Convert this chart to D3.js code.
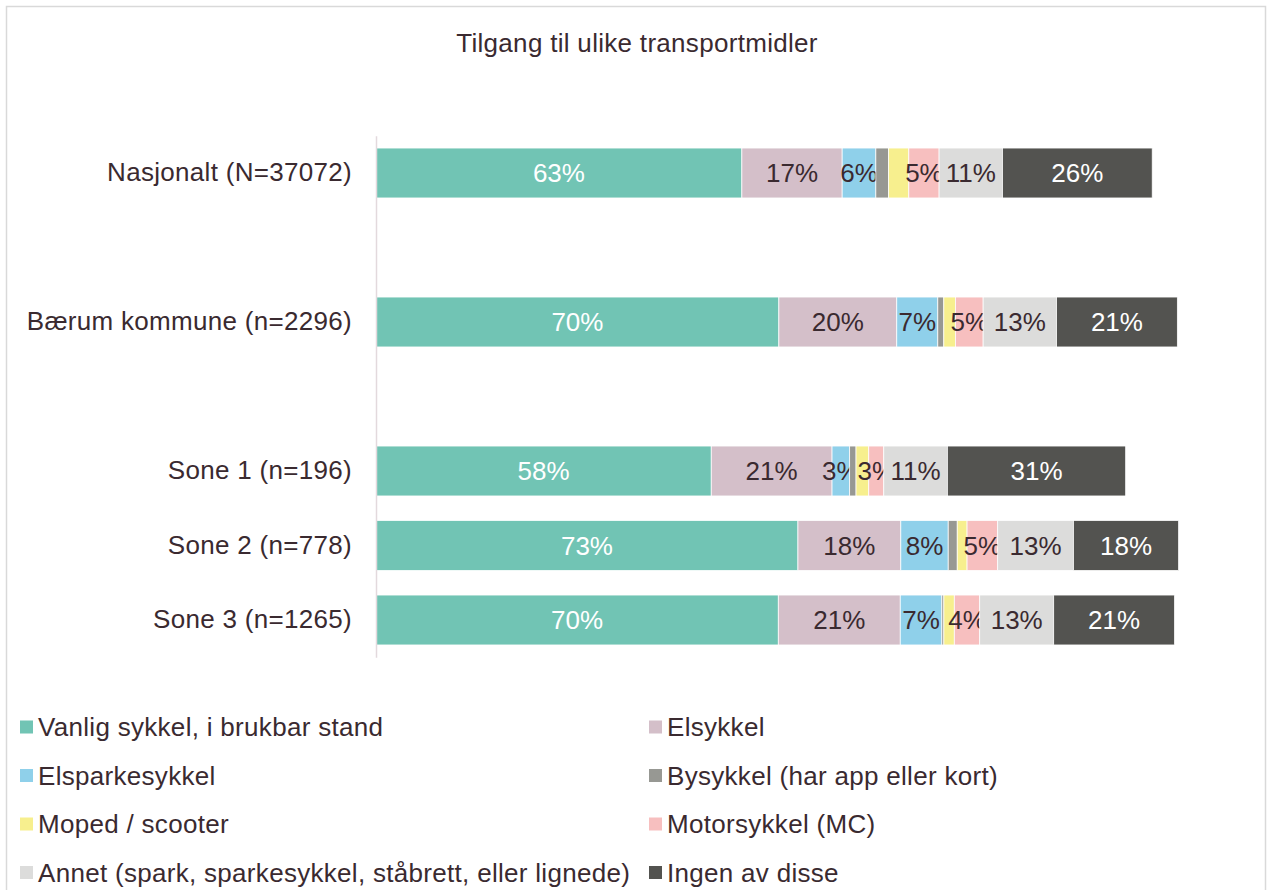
<!DOCTYPE html>
<html>
<head>
<meta charset="utf-8">
<script src="https://cdn.jsdelivr.net/npm/d3@7"></script>
<style>
  body { margin: 0; background: #fff; }
  text { font-family: "Liberation Sans", Arial, sans-serif; letter-spacing: 0.3px; }
</style>
</head>
<body>
<div id="chart"></div>
<script>
// data (rows with '' are empty gaps in the chart)
const categories = ['Nasjonalt (N=37072)', '', 'Bærum kommune (n=2296)', '', 'Sone 1 (n=196)', 'Sone 2 (n=778)', 'Sone 3 (n=1265)']
const seriesNames = ['Vanlig sykkel, i brukbar stand', 'Elsykkel', 'Elsparkesykkel', 'Bysykkel (har app eller kort)',
  'Moped / scooter', 'Motorsykkel (MC)', 'Annet (spark, sparkesykkel, ståbrett, eller lignede)', 'Ingen av disse']
const vanlig = [63.3, null, 69.7, null, 58.0, 73.0, 69.6]
const elsykkel = [17.35, null, 20.4, null, 20.9, 17.8, 21.1]
const elsparkesykkel = [5.83, null, 7.1, null, 3.05, 8.2, 7.2]
const bysykkel = [2.2, null, 1.04, null, 1.1, 1.56, 0.35]
const moped = [3.5, null, 2.0, null, 2.2, 1.7, 1.8]
const motorsykkel = [5.24, null, 4.8, null, 2.6, 5.3, 4.4]
const annet = [10.97, null, 12.7, null, 11.0, 13.1, 12.8]
const ingen = [25.9, null, 20.9, null, 30.85, 18.2, 20.9]
const seriesValues = [vanlig, elsykkel, elsparkesykkel, bysykkel, moped, motorsykkel, annet, ingen]
const colors = ['#71c4b4', '#d4bfc9', '#8fd0ea', '#979893', '#f7ef8e', '#f7bfbf', '#dcdcdb', '#535350']
const labelColors = ['#fff', '#3a2a30', '#3a2a30', '#3a2a30', '#3a2a30', '#3a2a30', '#3a2a30', '#fff']
const showLabel = [true, true, true, false, false, true, true, true]

const width = 1268
const height = 890
const textColor = '#3a2a30'
const fontSize = 26

const svg = d3.select('#chart').append('svg').attr('width', width).attr('height', height)

// border
svg.append('rect')
  .attr('x', 6.5).attr('y', 6.5)
  .attr('width', 1259).attr('height', 900)
  .attr('fill', '#fff').attr('stroke', '#d9d9d9').attr('stroke-width', 1.5)

svg.append('text')
  .attr('x', 637).attr('y', 52)
  .attr('text-anchor', 'middle')
  .attr('fill', textColor)
  .style('font-size', fontSize + 'px')
  .text('Tilgang til ulike transportmidler')

// scales
const x = d3.scaleLinear().domain([0, 140]).range([376, 376 + 140 * 5.78])
const y = d3.scaleBand().domain(d3.range(categories.length)).range([135.75, 657.25]).paddingInner(0.33).paddingOuter(0.165)

// stacked rows
const rows = categories.map((c, i) => {
  const r = { idx: i }
  seriesNames.forEach((s, j) => { r[s] = seriesValues[j][i] || 0 })
  return r
})
const stacked = d3.stack().keys(seriesNames)(rows)

const plot = svg.append('g')
stacked.forEach((layer, j) => {
  const g = plot.append('g')
  const segs = layer.filter(d => categories[d.data.idx] !== '')
  g.selectAll('rect').data(segs).join('rect')
    .attr('x', d => x(d[0]))
    .attr('y', d => y(d.data.idx))
    .attr('width', d => x(d[1]) - x(d[0]))
    .attr('height', y.bandwidth())
    .attr('fill', colors[j])
    .attr('stroke', '#fff')
    .attr('stroke-width', 0.75)
  if (showLabel[j]) {
    g.selectAll('text').data(segs).join('text')
      .attr('x', d => (x(d[0]) + x(d[1])) / 2)
      .attr('y', d => y(d.data.idx) + y.bandwidth() / 2)
      .attr('dy', '0.36em')
      .attr('text-anchor', 'middle')
      .attr('fill', labelColors[j])
      .style('font-size', fontSize + 'px')
      .style('letter-spacing', '0px')
      .text(d => Math.round(d[1] - d[0]) + '%')
  }
})

// category axis
const yAxis = svg.append('g')
  .attr('transform', `translate(${x(0)},0)`)
  .call(d3.axisLeft(y).tickSize(0).tickPadding(24).tickFormat(i => categories[i]))
yAxis.select('.domain').attr('stroke', '#e3d9dd').attr('stroke-width', 1.5)
yAxis.selectAll('text')
  .attr('fill', textColor)
  .style('font-size', fontSize + 'px')
  .style('font-family', '"Liberation Sans", Arial, sans-serif')

// legend
const legend = svg.append('g')
seriesNames.forEach((s, j) => {
  const col = j % 2
  const row = Math.floor(j / 2)
  const lx = col === 0 ? 20 : 649
  const ly = 727 + row * 48.5
  legend.append('rect')
    .attr('x', lx).attr('y', ly - 6.5)
    .attr('width', 13).attr('height', 13)
    .attr('fill', colors[j])
  legend.append('text')
    .attr('x', lx + 18).attr('y', ly)
    .attr('dy', '0.36em')
    .attr('fill', textColor)
    .style('font-size', fontSize + 'px')
    .text(s)
})
</script>
</body>
</html>
